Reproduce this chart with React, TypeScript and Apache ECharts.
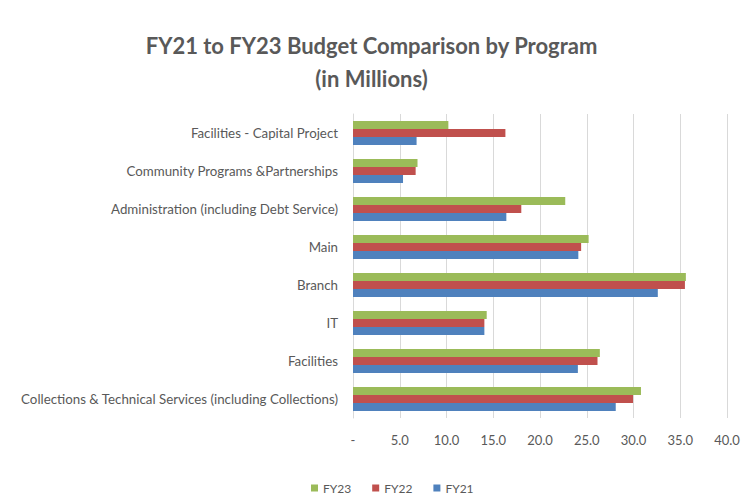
import React, { useEffect, useRef } from "react";
import * as echarts from "echarts";

const categories = [
  "Facilities - Capital Project",
  "Community Programs &Partnerships",
  "Administration (including Debt Service)",
  "Main",
  "Branch",
  "IT",
  "Facilities",
  "Collections & Technical Services (including Collections)",
];
const fy23 = [10.2, 6.9, 22.7, 25.2, 35.6, 14.3, 26.4, 30.8];
const fy22 = [16.3, 6.7, 18.0, 24.4, 35.5, 14.05, 26.15, 29.95];
const fy21 = [6.8, 5.35, 16.4, 24.1, 32.6, 14.05, 24.05, 28.1];
const seriesNames = ["FY23", "FY22", "FY21"];
const colors = ["#9BBB59", "#C0504D", "#4F81BD"];

export default function App() {
  const ref = useRef<HTMLDivElement>(null);
  useEffect(() => {
    const chart = echarts.init(ref.current!, null, { renderer: "svg" });
    const font = "Lato, 'Noto Sans', sans-serif";
    const data = [fy23, fy22, fy21];
    chart.setOption({
      animation: false,
      backgroundColor: "#ffffff",
      title: {
        text: "FY21 to FY23 Budget Comparison by Program\n(in Millions)",
        left: "center",
        top: 24,
        textStyle: {
          fontFamily: font,
          fontSize: 22,
          fontWeight: "bold",
          color: "#595959",
          lineHeight: 33,
        },
      },
      legend: {
        top: 482,
        left: 311,
        padding: 0,
        itemWidth: 7,
        itemHeight: 7,
        itemGap: 21,
        icon: "rect",
        textStyle: { fontFamily: font, fontSize: 12, color: "#595959" },
        data: seriesNames,
      },
      grid: { left: 353, right: 16, top: 114, bottom: 80 },
      xAxis: {
        type: "value",
        min: 0,
        max: 40,
        interval: 5,
        axisLine: { show: false },
        axisTick: { show: false },
        splitLine: { lineStyle: { color: "#d9d9d9", width: 1 } },
        axisLabel: {
          fontFamily: font,
          fontSize: 13,
          color: "#595959",
          margin: 15,
          formatter: (v: number) => (v === 0 ? "-" : v.toFixed(1)),
        },
      },
      yAxis: {
        type: "category",
        data: categories,
        inverse: true,
        axisLine: { show: true, lineStyle: { color: "#d9d9d9" } },
        axisTick: { show: false },
        axisLabel: {
          fontFamily: font,
          fontSize: 13.3,
          color: "#595959",
          margin: 15,
        },
      },
      series: seriesNames.map((name, i) => ({
        name,
        type: "bar",
        data: data[i],
        itemStyle: { color: colors[i] },
        barGap: "0%",
        barCategoryGap: "37%",
      })),
    });
    return () => chart.dispose();
  }, []);
  return <div ref={ref} style={{ width: 743, height: 498, position: "absolute", left: 0, top: 0 }} />;
}
